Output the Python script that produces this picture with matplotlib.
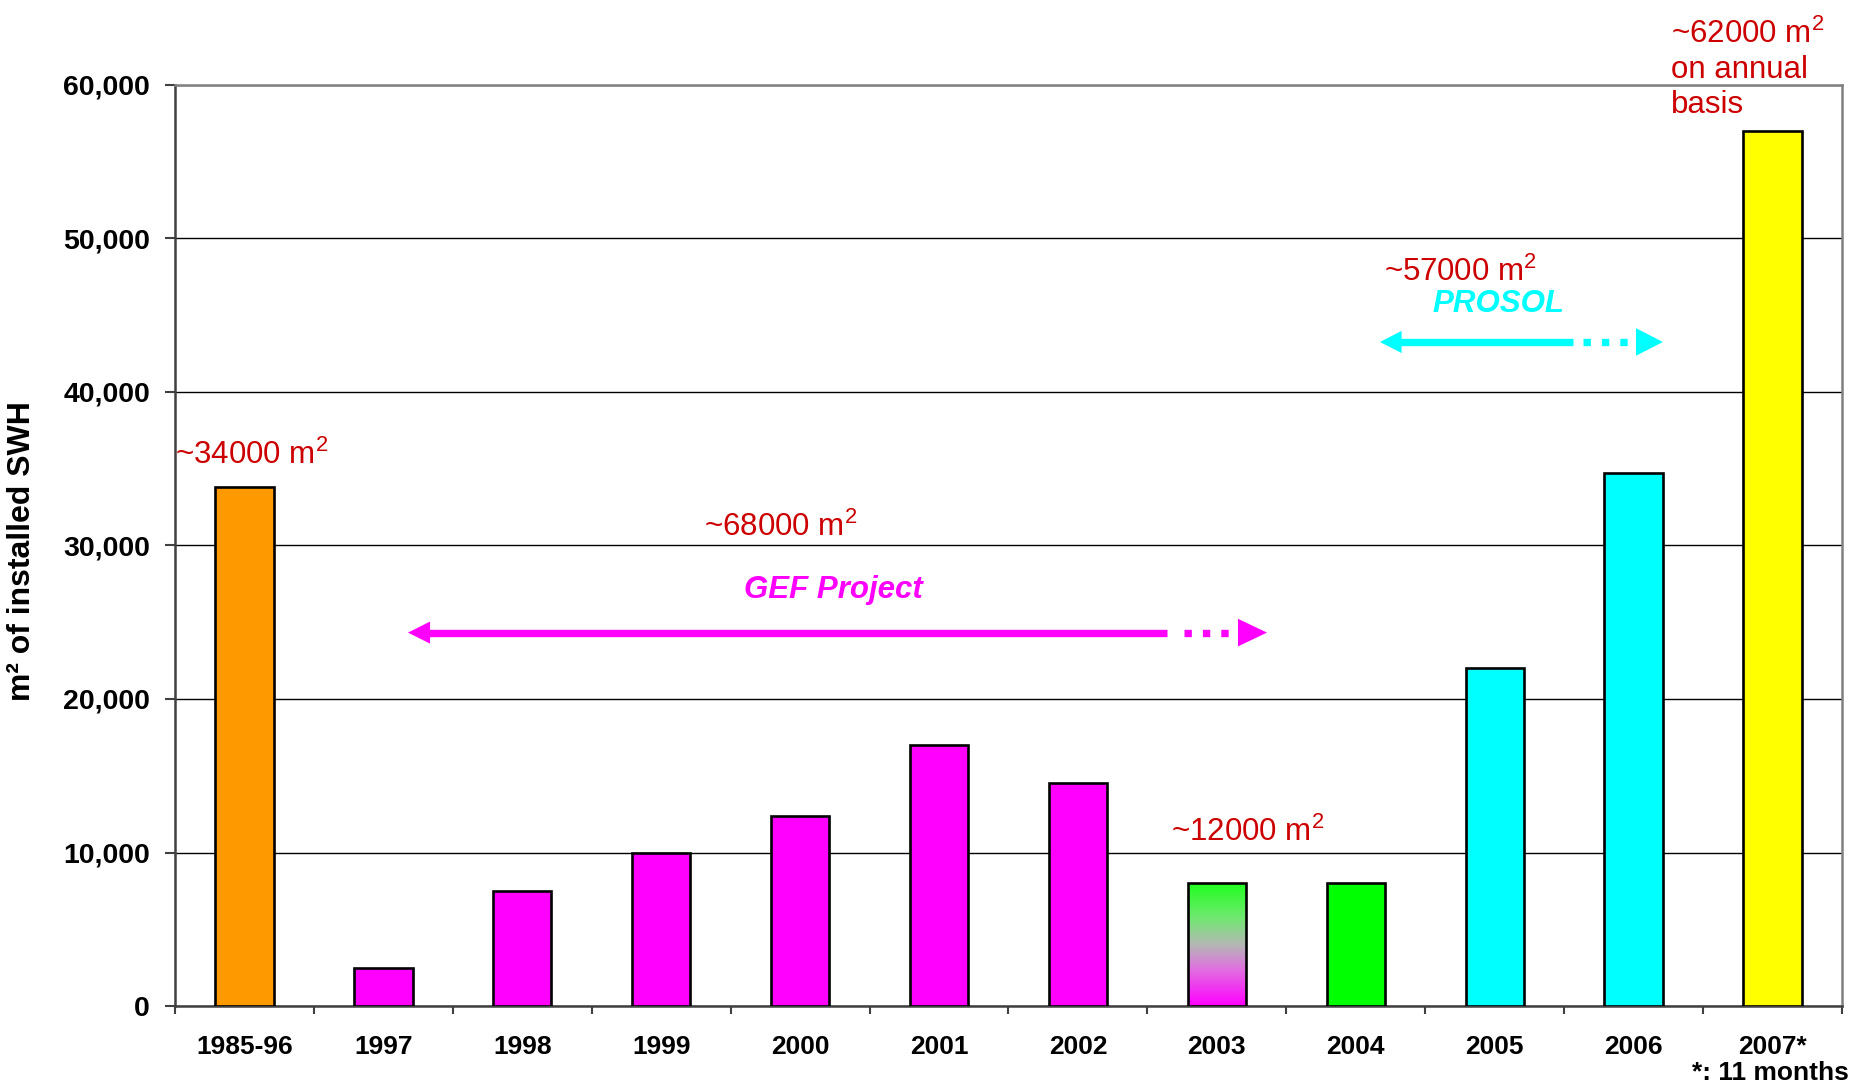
import numpy as np
import matplotlib
matplotlib.use('Agg')
import matplotlib.pyplot as plt
from matplotlib.colors import LinearSegmentedColormap
from matplotlib.patches import Polygon

categories = ['1985-96', '1997', '1998', '1999', '2000', '2001', '2002',
              '2003', '2004', '2005', '2006', '2007*']
values = [33800, 2500, 7500, 10000, 12400, 17000, 14500, 8000, 8000, 22000, 34700, 57000]
bar_colors = ['#FF9900', '#FF00FF', '#FF00FF', '#FF00FF', '#FF00FF', '#FF00FF', '#FF00FF',
              '#00FF00', '#00FF00', '#00FFFF', '#00FFFF', '#FFFF00']
y_ticks = [0, 10000, 20000, 30000, 40000, 50000, 60000]
y_tick_labels = ['0', '10,000', '20,000', '30,000', '40,000', '50,000', '60,000']
gradient_index = 7  # 2003 bar: green (top) to magenta (bottom)

plt.rcParams['font.family'] = ['Liberation Sans', 'DejaVu Sans']
plt.rcParams['mathtext.fontset'] = 'custom'
plt.rcParams['mathtext.rm'] = 'Liberation Sans'
plt.rcParams['mathtext.it'] = 'Liberation Sans:italic'
plt.rcParams['mathtext.bf'] = 'Liberation Sans:bold'

fig = plt.figure(figsize=(18.54, 10.85), dpi=100)
ax = fig.add_axes([0.0944, 0.0728, 0.8991, 0.8489])

x = np.arange(len(categories))
bars = ax.bar(x, values, width=0.42, color=bar_colors, edgecolor='black',
              linewidth=1.9, zorder=3)

# gradient bar
b = bars[gradient_index]
grad = np.linspace(0, 1, 256).reshape(-1, 1)
cmap = LinearSegmentedColormap.from_list(
    'gm', [(0.0, '#FF00FF'), (0.3, '#E070E0'), (0.5, '#B4B8B4'),
           (0.72, '#70E870'), (1.0, '#20FF20')])
bx = b.get_x()
im = ax.imshow(grad, cmap=cmap, origin='lower', aspect='auto',
               extent=[bx, bx + b.get_width(), 0, b.get_height()],
               interpolation='bilinear', zorder=3.5)
im.set_clip_path(b)
b.set_facecolor('none')
b.set_zorder(4)

ax.set_xlim(-0.5, len(categories) - 0.5)
ax.set_ylim(0, 60000)

ax.set_axisbelow(True)
ax.yaxis.grid(True, color='black', linewidth=1.0)

ax.set_yticks(y_ticks)
ax.set_yticklabels(y_tick_labels, fontsize=20.5, fontweight='bold')
ax.tick_params(axis='y', length=7, width=1.5, color='#404040', pad=11)

ax.set_xticks(x)
ax.set_xticklabels(categories, fontsize=19, fontweight='bold')
ax.set_xticks(np.arange(-0.5, len(categories), 1), minor=True)
ax.tick_params(axis='x', which='major', length=0, pad=21)
ax.tick_params(axis='x', which='minor', length=6, width=1.5, color='#404040')

for s in ['left', 'bottom']:
    ax.spines[s].set_color('#404040')
    ax.spines[s].set_linewidth(1.8)
for s in ['top', 'right']:
    ax.spines[s].set_color('#808080')
    ax.spines[s].set_linewidth(1.8)

ax.set_ylabel('m² of installed SWH', fontsize=23, fontweight='bold')
ax.yaxis.set_label_coords(-0.083, 0.494)

red = '#CC0000'
fs = 22.5
ax.text(-0.5, 35340, '~34000 m$^2$', color=red, fontsize=fs, ha='left', va='baseline')
ax.text(3.305, 30645, '~68000 m$^2$', color=red, fontsize=fs, ha='left', va='baseline')
ax.text(6.668, 10770, '~12000 m$^2$', color=red, fontsize=fs, ha='left', va='baseline')
ax.text(8.20, 47205, '~57000 m$^2$', color=red, fontsize=fs, ha='left', va='baseline')
ax.text(10.268, 62760, '~62000 m$^2$', color=red, fontsize=fs, ha='left', va='baseline', clip_on=False)
ax.text(10.268, 60456, 'on annual', color=red, fontsize=fs, ha='left', va='baseline', clip_on=False)
ax.text(10.268, 58143, 'basis', color=red, fontsize=fs, ha='left', va='baseline', clip_on=False)

ax.text(4.24, 26580, 'GEF Project', color='#FF00FF', fontsize=22.5, fontweight='bold',
        fontstyle='italic', ha='center', va='baseline')
ax.text(9.03, 45210, 'PROSOL', color='#00FFFF', fontsize=22.5, fontweight='bold',
        fontstyle='italic', ha='center', va='baseline')


def double_arrow(xl, xl_base, x_solid, x_dots, xr_base, xr, y, hl_h, hr_h, color):
    ax.plot([xl_base - 0.01, x_solid], [y, y], color=color, lw=5.3,
            solid_capstyle='butt', zorder=5)
    ax.plot([x_dots, xr_base], [y, y], color=color, lw=5.3,
            linestyle=(0, (1, 1.5)), dash_capstyle='butt', zorder=5)
    ax.add_patch(Polygon([(xl, y), (xl_base, y + hl_h), (xl_base, y - hl_h)],
                         closed=True, facecolor=color, edgecolor='none', zorder=5))
    ax.add_patch(Polygon([(xr, y), (xr_base, y + hr_h), (xr_base, y - hr_h)],
                         closed=True, facecolor=color, edgecolor='none', zorder=5))


double_arrow(1.177, 1.336, 6.641, 6.763, 7.152, 7.361, 24325, 720, 900, '#FF00FF')
double_arrow(8.174, 8.33, 9.561, 9.635, 10.017, 10.211, 43257, 720, 900, '#00FFFF')

fig.text(1849 / 1854, 1 - 1073 / 1085, '*: 11 months', fontsize=19, fontweight='bold',
         ha='right', va='center')

fig.savefig('out.png', dpi=100)
